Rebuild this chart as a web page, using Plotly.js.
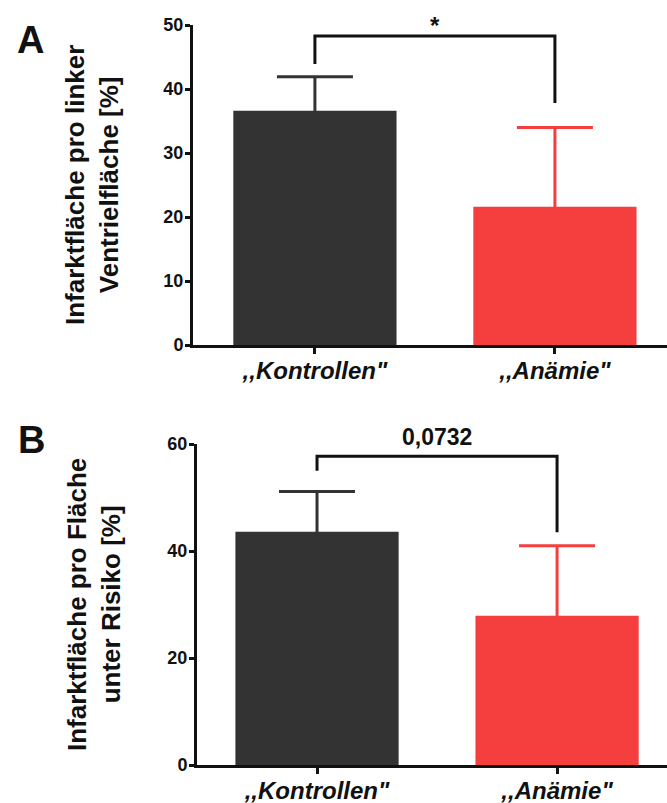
<!DOCTYPE html>
<html>
<head>
<meta charset="utf-8">
<script src="https://cdn.plot.ly/plotly-3.0.1.min.js"></script>
<style>html,body{margin:0;padding:0;background:#fff;}#chart{width:667px;height:803px;}</style>
</head>
<body>
<div id="chart"></div>
<script>
// ---- data ----
const categories = [',,Kontrollen"', ',,Anämie"'];
const meanA = [36.6, 21.6];
const errA = [5.3, 12.4];
const meanB = [43.6, 27.9];
const errB = [7.5, 13.1];
const bracketX = [categories[0], categories[0], categories[1], categories[1]];
const bracketA = [43.9, 48.3, 48.3, 37.8];
const bracketB = [55.0, 57.7, 57.7, 43.5];
const sigLabelA = '*';
const sigLabelB = '0,0732';
const yTicksA = [0, 10, 20, 30, 40, 50];
const yTicksB = [0, 20, 40, 60];
const titleA = 'Infarktfläche pro linker<br>Ventrielfläche [%]';
const titleB = 'Infarktfläche pro Fläche<br>unter Risiko [%]';
const barColors = ['#333333', '#F53F3F'];

const FONT = 'Liberation Sans, Arial, sans-serif';
const W = 667, H = 803;

function barTrace(i, means, errs, xa, ya) {
  return {
    type: 'bar', x: [categories[i]], y: [means[i]], xaxis: xa, yaxis: ya,
    width: 0.68, marker: {color: barColors[i], line: {width: 0}},
    error_y: {type: 'data', symmetric: true, array: [errs[i]],
              color: barColors[i], thickness: 3, width: 38},
    showlegend: false, hoverinfo: 'skip'
  };
}
function bracketTrace(ys, xa, ya) {
  return {type: 'scatter', mode: 'lines', x: bracketX, y: ys, xaxis: xa, yaxis: ya,
          line: {color: '#111', width: 3}, cliponaxis: false, showlegend: false, hoverinfo: 'skip'};
}

const data = [
  barTrace(0, meanA, errA, 'x', 'y'),
  barTrace(1, meanA, errA, 'x', 'y'),
  bracketTrace(bracketA, 'x', 'y'),
  barTrace(0, meanB, errB, 'x2', 'y2'),
  barTrace(1, meanB, errB, 'x2', 'y2'),
  bracketTrace(bracketB, 'x2', 'y2')
];

const xCommon = {
  type: 'category', categoryorder: 'array', categoryarray: categories,
  showline: true, linewidth: 3, linecolor: '#111', ticks: 'outside', ticklen: 6, tickwidth: 3, tickcolor: '#111',
  showgrid: false, zeroline: false, fixedrange: true, ticklabelstandoff: -4,
  tickfont: {family: FONT, size: 24, color: '#111', weight: 'bold', style: 'italic'}
};
const yCommon = {
  showline: true, linewidth: 3, linecolor: '#111', ticks: 'outside', ticklen: 5, tickwidth: 3, tickcolor: '#111',
  showgrid: false, zeroline: false, fixedrange: true, tickmode: 'array', ticklabelstandoff: -2,
  tickfont: {family: FONT, size: 18, color: '#111', weight: 'bold'}
};

const layout = {
  width: W, height: H, margin: {l: 0, r: 0, t: 0, b: 0},
  paper_bgcolor: '#fff', plot_bgcolor: '#fff', barmode: 'overlay',
  font: {family: FONT, color: '#111'},
  xaxis: Object.assign({}, xCommon, {domain: [193 / W, 1], range: [-0.508, 1.467], anchor: 'y'}),
  yaxis: Object.assign({}, yCommon, {domain: [1 - 345 / H, 1 - 25 / H], range: [0, 50], tickvals: yTicksA, anchor: 'x'}),
  xaxis2: Object.assign({}, xCommon, {domain: [197 / W, 1], range: [-0.5, 1.458], anchor: 'y2'}),
  yaxis2: Object.assign({}, yCommon, {domain: [1 - 765 / H, 1 - 444 / H], range: [0, 60], tickvals: yTicksB, anchor: 'x2'}),
  annotations: [
    {xref: 'x', yref: 'y', x: 0.5, y: bracketA[1], yanchor: 'bottom', yshift: -5, text: sigLabelA, showarrow: false,
     font: {family: FONT, size: 24, color: '#111', weight: 'bold'}},
    {xref: 'x2', yref: 'y2', x: 0.5, y: bracketB[1], yanchor: 'bottom', yshift: 4, text: sigLabelB, showarrow: false,
     font: {family: FONT, size: 23, color: '#111', weight: 'bold'}},
    {xref: 'paper', yref: 'paper', x: 92 / W, y: 1 - 185 / H, xanchor: 'center', yanchor: 'middle', textangle: -90,
     text: titleA, showarrow: false, font: {family: FONT, size: 26, color: '#111', weight: 'bold'}},
    {xref: 'paper', yref: 'paper', x: 94 / W, y: 1 - 605 / H, xanchor: 'center', yanchor: 'middle', textangle: -90,
     text: titleB, showarrow: false, font: {family: FONT, size: 26, color: '#111', weight: 'bold'}},
    {xref: 'paper', yref: 'paper', x: 30 / W, y: 1 - 40 / H, xanchor: 'center', yanchor: 'middle',
     text: 'A', showarrow: false, font: {family: FONT, size: 38, color: '#111', weight: 'bold'}},
    {xref: 'paper', yref: 'paper', x: 31 / W, y: 1 - 440 / H, xanchor: 'center', yanchor: 'middle',
     text: 'B', showarrow: false, font: {family: FONT, size: 38, color: '#111', weight: 'bold'}}
  ]
};

Plotly.newPlot('chart', data, layout, {displayModeBar: false, staticPlot: true});
</script>
</body>
</html>
